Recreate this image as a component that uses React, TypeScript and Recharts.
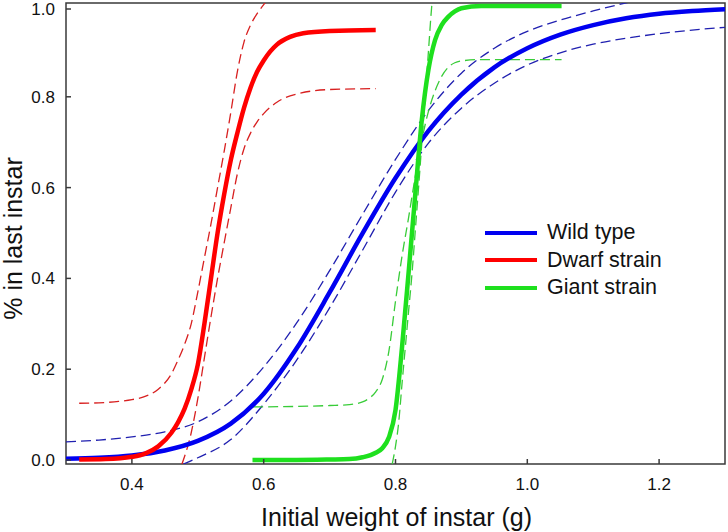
import React from 'react';
import { LineChart, Line, XAxis, YAxis, ReferenceArea, Legend } from 'recharts';

const X_TICKS = [0.4, 0.6, 0.8, 1.0, 1.2];
const Y_TICKS = [0, 0.2, 0.4, 0.6, 0.8, 1.0];
const X_DOMAIN: [number, number] = [0.3, 1.3];
const Y_DOMAIN: [number, number] = [-0.0088, 1.0066];

const SERIES_NAMES = ['Wild type', 'Dwarf strain', 'Giant strain'];

const WILD_FIT: [number, number][] = [
  [0.30, 0.003], [0.35, 0.005], [0.40, 0.010], [0.45, 0.021], [0.50, 0.042], [0.55, 0.080],
  [0.60, 0.146], [0.65, 0.246], [0.70, 0.369], [0.75, 0.499], [0.80, 0.621], [0.85, 0.725],
  [0.90, 0.805], [0.95, 0.865], [1.00, 0.907], [1.05, 0.937], [1.10, 0.958], [1.15, 0.973],
  [1.20, 0.983], [1.25, 0.989], [1.30, 0.993],
];
const WILD_UPPER: [number, number][] = [
  [0.30, 0.040], [0.35, 0.044], [0.40, 0.051], [0.45, 0.062], [0.50, 0.084], [0.55, 0.130],
  [0.60, 0.205], [0.65, 0.302], [0.70, 0.417], [0.75, 0.541], [0.80, 0.662], [0.85, 0.770],
  [0.90, 0.852], [0.95, 0.907], [1.00, 0.944], [1.05, 0.969], [1.10, 0.989], [1.15, 1.007],
  [1.20, 1.022],
];
const WILD_LOWER: [number, number][] = [
  [0.478, -0.009], [0.50, 0.005], [0.55, 0.045], [0.60, 0.123], [0.65, 0.220], [0.70, 0.335],
  [0.75, 0.462], [0.80, 0.590], [0.85, 0.698], [0.90, 0.775], [0.95, 0.830], [1.00, 0.870],
  [1.05, 0.897], [1.10, 0.916], [1.15, 0.929], [1.20, 0.939], [1.25, 0.947], [1.30, 0.953],
];

const DWARF_FIT: [number, number][] = [
  [0.32, 0.001], [0.36, 0.002], [0.40, 0.007], [0.42, 0.014], [0.44, 0.030], [0.46, 0.060],
  [0.47, 0.083], [0.48, 0.113], [0.49, 0.155], [0.50, 0.210], [0.51, 0.300], [0.52, 0.400],
  [0.53, 0.500], [0.54, 0.585], [0.55, 0.660], [0.56, 0.720], [0.57, 0.775], [0.58, 0.820],
  [0.59, 0.855], [0.60, 0.880], [0.61, 0.900], [0.62, 0.915], [0.64, 0.932], [0.66, 0.940],
  [0.70, 0.945], [0.77, 0.947],
];
const DWARF_UPPER: [number, number][] = [
  [0.32, 0.125], [0.35, 0.126], [0.38, 0.129], [0.40, 0.133], [0.42, 0.140], [0.44, 0.156],
  [0.46, 0.190], [0.47, 0.220], [0.48, 0.255], [0.49, 0.300], [0.50, 0.370], [0.51, 0.445],
  [0.52, 0.520], [0.53, 0.600], [0.54, 0.680], [0.55, 0.765], [0.56, 0.855], [0.57, 0.920],
  [0.58, 0.958], [0.59, 0.983], [0.60, 1.003], [0.61, 1.020],
];
const DWARF_LOWER: [number, number][] = [
  [0.476, -0.009], [0.49, 0.060], [0.50, 0.135], [0.51, 0.225], [0.52, 0.315], [0.53, 0.400],
  [0.54, 0.478], [0.55, 0.555], [0.56, 0.630], [0.57, 0.685], [0.58, 0.720], [0.59, 0.745],
  [0.60, 0.763], [0.62, 0.788], [0.65, 0.806], [0.70, 0.816], [0.77, 0.818],
];

const GIANT_FIT: [number, number][] = [
  [0.583, 0.0], [0.65, 0.0], [0.70, 0.001], [0.73, 0.002], [0.75, 0.006], [0.77, 0.016],
  [0.78, 0.026], [0.79, 0.050], [0.80, 0.110], [0.81, 0.250], [0.82, 0.415], [0.83, 0.585],
  [0.84, 0.750], [0.85, 0.860], [0.86, 0.925], [0.87, 0.958], [0.88, 0.976], [0.89, 0.988],
  [0.90, 0.995], [0.93, 1.0], [1.052, 1.0],
];
const GIANT_UPPER: [number, number][] = [
  [0.795, -0.009], [0.80, 0.030], [0.805, 0.085], [0.81, 0.170], [0.815, 0.250], [0.82, 0.330],
  [0.825, 0.410], [0.83, 0.505], [0.835, 0.600], [0.84, 0.700], [0.845, 0.800], [0.85, 0.900],
  [0.855, 1.000], [0.86, 1.060],
];
const GIANT_LOWER: [number, number][] = [
  [0.584, 0.117], [0.65, 0.118], [0.70, 0.120], [0.73, 0.122], [0.75, 0.128], [0.76, 0.136],
  [0.77, 0.150], [0.78, 0.178], [0.79, 0.240], [0.80, 0.350], [0.81, 0.450], [0.82, 0.535],
  [0.83, 0.625], [0.84, 0.705], [0.85, 0.768], [0.86, 0.813], [0.87, 0.845], [0.88, 0.865],
  [0.89, 0.875], [0.90, 0.879], [0.93, 0.882], [1.052, 0.882],
];

const toPts = (a: [number, number][]) => a.map(([x, y]) => ({ x, y }));

const FONT = '"Liberation Sans", Arial, sans-serif';
const BLUE = '#0000f0';
const BLUE_D = '#2020b0';
const RED = '#ff0000';
const RED_D = '#d82020';
const GREEN = '#1ee01e';
const GREEN_D = '#38cc38';
const AXIS = '#3a3a3a';

const YTick = (props: any) => {
  const { x, y, payload } = props;
  const ax = x + 8; // axis line position (tickSize 6 + margin 2)
  return (
    <g>
      <line x1={ax} x2={ax + 5} y1={y} y2={y} stroke={AXIS} strokeWidth={1.5} />
      <text x={ax - 11} y={y + 6} textAnchor="end" fontFamily={FONT} fontSize={17} fill="#111">
        {Number(payload.value).toFixed(1)}
      </text>
    </g>
  );
};

const XTick = (props: any) => {
  const { x, y, payload } = props;
  const ay = y - 8;
  return (
    <g>
      <line x1={x} x2={x} y1={ay} y2={ay - 5} stroke={AXIS} strokeWidth={1.5} />
      <text x={x} y={ay + 26} textAnchor="middle" fontFamily={FONT} fontSize={17} fill="#111">
        {Number(payload.value).toFixed(1)}
      </text>
    </g>
  );
};

const XLabel = (props: any) => {
  const vb = props.viewBox || {};
  return (
    <text x={vb.x + vb.width / 2 + 1} y={vb.y + 62} textAnchor="middle" fontFamily={FONT} fontSize={25} fill="#111">
      Initial weight of instar (g)
    </text>
  );
};

const YLabel = (props: any) => {
  const vb = props.viewBox || {};
  const cx = 22;
  const cy = vb.y + vb.height / 2 + 5;
  return (
    <text x={cx} y={cy} transform={`rotate(-90, ${cx}, ${cy})`} textAnchor="middle" fontFamily={FONT} fontSize={25} fill="#111">
      % in last instar
    </text>
  );
};

const LEGEND_COLORS = [BLUE, RED, GREEN];

const LegendBox = () => (
  <div style={{ fontFamily: FONT, fontSize: 21.5, color: '#111' }}>
    {SERIES_NAMES.map((n, i) => (
      <div key={n} style={{ display: 'flex', alignItems: 'center', height: 27.5 }}>
        <span style={{ display: 'inline-block', width: 52, height: 4, background: LEGEND_COLORS[i], marginRight: 10 }} />
        <span>{n}</span>
      </div>
    ))}
  </div>
);

export default function App() {
  const dashed = { strokeWidth: 1.3, strokeDasharray: '10 5', dot: false, activeDot: false, isAnimationActive: false, type: 'monotone' as const, dataKey: 'y', legendType: 'none' as const };
  const solid = { strokeWidth: 4.5, dot: false, activeDot: false, isAnimationActive: false, type: 'monotone' as const, dataKey: 'y' };
  return (
    <div style={{ position: 'absolute', left: 0, top: 0, width: 728, height: 532, background: '#fff' }}>
      <LineChart width={728} height={532} margin={{ top: 3, right: 3, bottom: 0, left: 0 }}>
        <XAxis
          dataKey="x"
          type="number"
          domain={X_DOMAIN}
          ticks={X_TICKS}
          allowDataOverflow
          height={68}
          axisLine={false}
          tickLine={false}
          tick={<XTick />}
          label={<XLabel />}
        />
        <YAxis
          type="number"
          domain={Y_DOMAIN}
          ticks={Y_TICKS}
          allowDataOverflow
          width={66}
          axisLine={false}
          tickLine={false}
          tick={<YTick />}
          label={<YLabel />}
        />
        <Line {...dashed} data={toPts(WILD_UPPER)} stroke={BLUE_D} name="wu" />
        <Line {...dashed} data={toPts(WILD_LOWER)} stroke={BLUE_D} name="wl" />
        <Line {...dashed} data={toPts(DWARF_UPPER)} stroke={RED_D} name="du" />
        <Line {...dashed} data={toPts(DWARF_LOWER)} stroke={RED_D} name="dl" />
        <Line {...dashed} data={toPts(GIANT_UPPER)} stroke={GREEN_D} name="gu" />
        <Line {...dashed} data={toPts(GIANT_LOWER)} stroke={GREEN_D} name="gl" />
        <Line {...solid} data={toPts(WILD_FIT)} stroke={BLUE} name={SERIES_NAMES[0]} />
        <Line {...solid} data={toPts(DWARF_FIT)} stroke={RED} name={SERIES_NAMES[1]} />
        <Line {...solid} data={toPts(GIANT_FIT)} stroke={GREEN} name={SERIES_NAMES[2]} />
        <ReferenceArea x1={X_DOMAIN[0]} x2={X_DOMAIN[1]} y1={Y_DOMAIN[0]} y2={Y_DOMAIN[1]} fill="none" stroke={AXIS} strokeWidth={1.5} ifOverflow="visible" />
        <Legend
          layout="vertical"
          align="center"
          verticalAlign="middle"
          content={<LegendBox />}
          wrapperStyle={{ left: 485, top: 219, width: 220, height: 85 }}
        />
      </LineChart>
    </div>
  );
}
